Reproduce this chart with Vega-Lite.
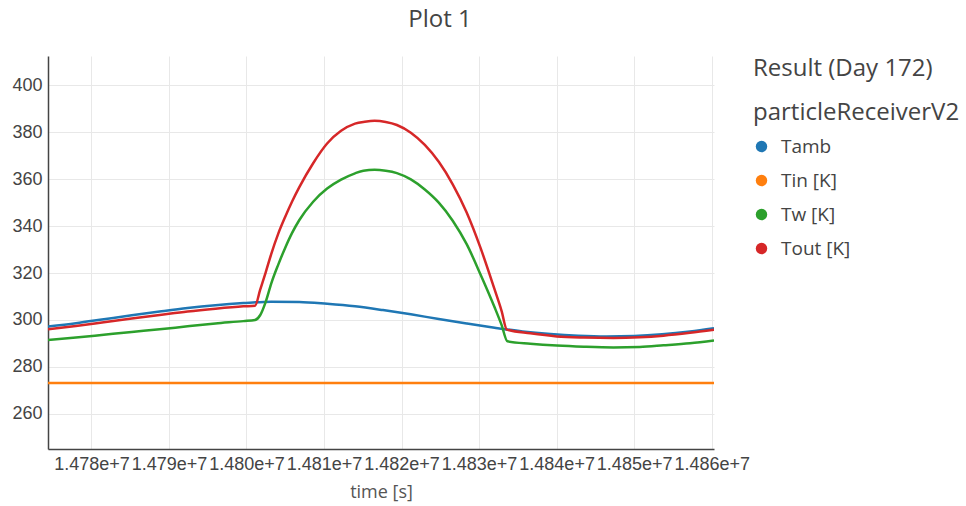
{
  "$schema": "https://vega.github.io/schema/vega-lite/v6.json",
  "width": 666,
  "height": 393,
  "autosize": {"type": "none"},
  "padding": {"left": 48, "top": 56, "right": 252, "bottom": 57},
  "background": "white",
  "title": {"text": "Plot 1", "font": "Open Sans", "fontSize": 24, "fontWeight": "normal", "color": "#444", "anchor": "middle", "frame": "group", "dx": 59, "offset": 5, "baseline": "alphabetic"},
  "config": {"view": {"stroke": null}},
  "data": {"values": [
    {"t": 14774400, "s": "Tamb", "v": 297.2},
    {"t": 14778000, "s": "Tamb", "v": 298.6},
    {"t": 14781600, "s": "Tamb", "v": 300.3},
    {"t": 14785200, "s": "Tamb", "v": 302.0},
    {"t": 14788800, "s": "Tamb", "v": 303.6},
    {"t": 14792400, "s": "Tamb", "v": 305.1},
    {"t": 14796000, "s": "Tamb", "v": 306.3},
    {"t": 14799600, "s": "Tamb", "v": 307.2},
    {"t": 14803200, "s": "Tamb", "v": 307.8},
    {"t": 14806800, "s": "Tamb", "v": 307.7},
    {"t": 14810400, "s": "Tamb", "v": 306.9},
    {"t": 14814000, "s": "Tamb", "v": 305.8},
    {"t": 14817600, "s": "Tamb", "v": 304.2},
    {"t": 14821200, "s": "Tamb", "v": 302.4},
    {"t": 14824800, "s": "Tamb", "v": 300.4},
    {"t": 14828400, "s": "Tamb", "v": 298.5},
    {"t": 14832000, "s": "Tamb", "v": 296.7},
    {"t": 14835600, "s": "Tamb", "v": 295.1},
    {"t": 14839200, "s": "Tamb", "v": 294.0},
    {"t": 14842800, "s": "Tamb", "v": 293.3},
    {"t": 14846400, "s": "Tamb", "v": 293.0},
    {"t": 14850000, "s": "Tamb", "v": 293.2},
    {"t": 14853600, "s": "Tamb", "v": 293.9},
    {"t": 14857200, "s": "Tamb", "v": 295.1},
    {"t": 14860300, "s": "Tamb", "v": 296.5},
    {"t": 14774400, "s": "Tin [K]", "v": 273.15},
    {"t": 14860300, "s": "Tin [K]", "v": 273.15},
    {"t": 14774400, "s": "Tw [K]", "v": 291.5},
    {"t": 14778000, "s": "Tw [K]", "v": 292.5},
    {"t": 14781600, "s": "Tw [K]", "v": 293.7},
    {"t": 14785200, "s": "Tw [K]", "v": 294.9},
    {"t": 14788800, "s": "Tw [K]", "v": 296.0},
    {"t": 14792400, "s": "Tw [K]", "v": 297.3},
    {"t": 14796000, "s": "Tw [K]", "v": 298.5},
    {"t": 14799600, "s": "Tw [K]", "v": 299.5},
    {"t": 14801112, "s": "Tw [K]", "v": 300.0},
    {"t": 14801760, "s": "Tw [K]", "v": 302.0},
    {"t": 14802480, "s": "Tw [K]", "v": 307.7},
    {"t": 14803200, "s": "Tw [K]", "v": 315.6},
    {"t": 14804100, "s": "Tw [K]", "v": 323.6},
    {"t": 14805000, "s": "Tw [K]", "v": 330.8},
    {"t": 14805900, "s": "Tw [K]", "v": 337.2},
    {"t": 14806800, "s": "Tw [K]", "v": 342.5},
    {"t": 14808600, "s": "Tw [K]", "v": 350.4},
    {"t": 14810400, "s": "Tw [K]", "v": 356.0},
    {"t": 14812200, "s": "Tw [K]", "v": 359.8},
    {"t": 14814000, "s": "Tw [K]", "v": 362.5},
    {"t": 14815080, "s": "Tw [K]", "v": 363.6},
    {"t": 14816520, "s": "Tw [K]", "v": 364.0},
    {"t": 14817960, "s": "Tw [K]", "v": 363.6},
    {"t": 14819400, "s": "Tw [K]", "v": 362.6},
    {"t": 14821200, "s": "Tw [K]", "v": 359.9},
    {"t": 14823000, "s": "Tw [K]", "v": 355.6},
    {"t": 14824800, "s": "Tw [K]", "v": 350.0},
    {"t": 14826600, "s": "Tw [K]", "v": 342.3},
    {"t": 14828400, "s": "Tw [K]", "v": 332.3},
    {"t": 14830200, "s": "Tw [K]", "v": 319.3},
    {"t": 14832000, "s": "Tw [K]", "v": 305.4},
    {"t": 14832900, "s": "Tw [K]", "v": 297.9},
    {"t": 14833656, "s": "Tw [K]", "v": 290.9},
    {"t": 14836608, "s": "Tw [K]", "v": 289.9},
    {"t": 14840028, "s": "Tw [K]", "v": 289.1},
    {"t": 14843520, "s": "Tw [K]", "v": 288.6},
    {"t": 14847336, "s": "Tw [K]", "v": 288.3},
    {"t": 14850720, "s": "Tw [K]", "v": 288.5},
    {"t": 14853780, "s": "Tw [K]", "v": 289.2},
    {"t": 14857200, "s": "Tw [K]", "v": 290.1},
    {"t": 14860300, "s": "Tw [K]", "v": 291.3},
    {"t": 14774400, "s": "Tout [K]", "v": 296.0},
    {"t": 14778000, "s": "Tout [K]", "v": 297.4},
    {"t": 14781600, "s": "Tout [K]", "v": 299.0},
    {"t": 14785200, "s": "Tout [K]", "v": 300.6},
    {"t": 14788800, "s": "Tout [K]", "v": 302.1},
    {"t": 14792400, "s": "Tout [K]", "v": 303.6},
    {"t": 14796000, "s": "Tout [K]", "v": 304.8},
    {"t": 14799600, "s": "Tout [K]", "v": 305.8},
    {"t": 14801112, "s": "Tout [K]", "v": 306.1},
    {"t": 14801760, "s": "Tout [K]", "v": 312.8},
    {"t": 14802480, "s": "Tout [K]", "v": 320.3},
    {"t": 14803200, "s": "Tout [K]", "v": 328.2},
    {"t": 14804100, "s": "Tout [K]", "v": 336.8},
    {"t": 14805000, "s": "Tout [K]", "v": 344.0},
    {"t": 14805900, "s": "Tout [K]", "v": 350.6},
    {"t": 14806800, "s": "Tout [K]", "v": 356.5},
    {"t": 14808600, "s": "Tout [K]", "v": 366.8},
    {"t": 14810400, "s": "Tout [K]", "v": 375.2},
    {"t": 14812200, "s": "Tout [K]", "v": 380.6},
    {"t": 14814000, "s": "Tout [K]", "v": 383.7},
    {"t": 14815260, "s": "Tout [K]", "v": 384.5},
    {"t": 14816520, "s": "Tout [K]", "v": 384.9},
    {"t": 14817960, "s": "Tout [K]", "v": 384.4},
    {"t": 14819400, "s": "Tout [K]", "v": 383.1},
    {"t": 14821200, "s": "Tout [K]", "v": 379.8},
    {"t": 14823000, "s": "Tout [K]", "v": 374.6},
    {"t": 14824800, "s": "Tout [K]", "v": 367.4},
    {"t": 14826600, "s": "Tout [K]", "v": 357.8},
    {"t": 14828400, "s": "Tout [K]", "v": 345.8},
    {"t": 14830200, "s": "Tout [K]", "v": 330.6},
    {"t": 14832000, "s": "Tout [K]", "v": 313.0},
    {"t": 14832900, "s": "Tout [K]", "v": 303.9},
    {"t": 14833584, "s": "Tout [K]", "v": 295.9},
    {"t": 14836608, "s": "Tout [K]", "v": 294.3},
    {"t": 14840028, "s": "Tout [K]", "v": 293.0},
    {"t": 14843520, "s": "Tout [K]", "v": 292.5},
    {"t": 14847336, "s": "Tout [K]", "v": 292.3},
    {"t": 14850720, "s": "Tout [K]", "v": 292.6},
    {"t": 14853780, "s": "Tout [K]", "v": 293.3},
    {"t": 14857200, "s": "Tout [K]", "v": 294.5},
    {"t": 14860300, "s": "Tout [K]", "v": 295.8}
  ]},
  "mark": {"type": "line", "strokeWidth": 2.5, "interpolate": "monotone", "clip": true},
  "encoding": {
    "x": {
      "field": "t", "type": "quantitative",
      "scale": {"domain": [14774400, 14860300], "nice": false, "zero": false},
      "axis": {
        "title": "time [s]",
        "values": [14780000, 14790000, 14800000, 14810000, 14820000, 14830000, 14840000, 14850000, 14860000],
        "format": ".3e",
        "labelOverlap": false, "labelFlush": false, "labelBound": false,
        "labelFont": "Liberation Sans", "labelFontSize": 18, "labelColor": "#444", "labelPadding": 6,
        "ticks": false, "grid": true, "gridColor": "#e8e8e8", "gridWidth": 1,
        "domainColor": "#444", "domainWidth": 1.5,
        "titleFont": "Open Sans", "titleFontSize": 18, "titleFontWeight": "normal", "titleColor": "#555", "titlePadding": 10
      }
    },
    "y": {
      "field": "v", "type": "quantitative",
      "scale": {"domain": [245, 412.5], "nice": false, "zero": false},
      "axis": {
        "title": null,
        "values": [260, 280, 300, 320, 340, 360, 380, 400],
        "labelFont": "Liberation Sans", "labelFontSize": 18, "labelColor": "#444", "labelPadding": 6,
        "ticks": false, "grid": true, "gridColor": "#e8e8e8", "gridWidth": 1,
        "domainColor": "#444", "domainWidth": 1.5
      }
    },
    "color": {
      "field": "s", "type": "nominal",
      "scale": {"domain": ["Tamb", "Tin [K]", "Tw [K]", "Tout [K]"], "range": ["#1f77b4", "#ff7f0e", "#2ca02c", "#d62728"]},
      "legend": {
        "title": ["Result (Day 172)", "particleReceiverV2"],
        "orient": "none", "legendX": 705, "legendY": 1,
        "titleFont": "Open Sans", "titleFontSize": 24, "titleFontWeight": "normal", "titleColor": "#444",
        "titleLineHeight": 44, "titlePadding": 12, "titleLimit": 400,
        "labelFont": "Open Sans", "labelFontSize": 19, "labelColor": "#444",
        "symbolType": "circle", "symbolSize": 130, "symbolOffset": -1, "labelOffset": 10, "rowPadding": 14,
        "encode": {"symbols": {"update": {"fill": {"scale": "color", "field": "value"}, "stroke": {"value": "transparent"}, "strokeWidth": {"value": 0}}}}
      }
    }
  }
}
